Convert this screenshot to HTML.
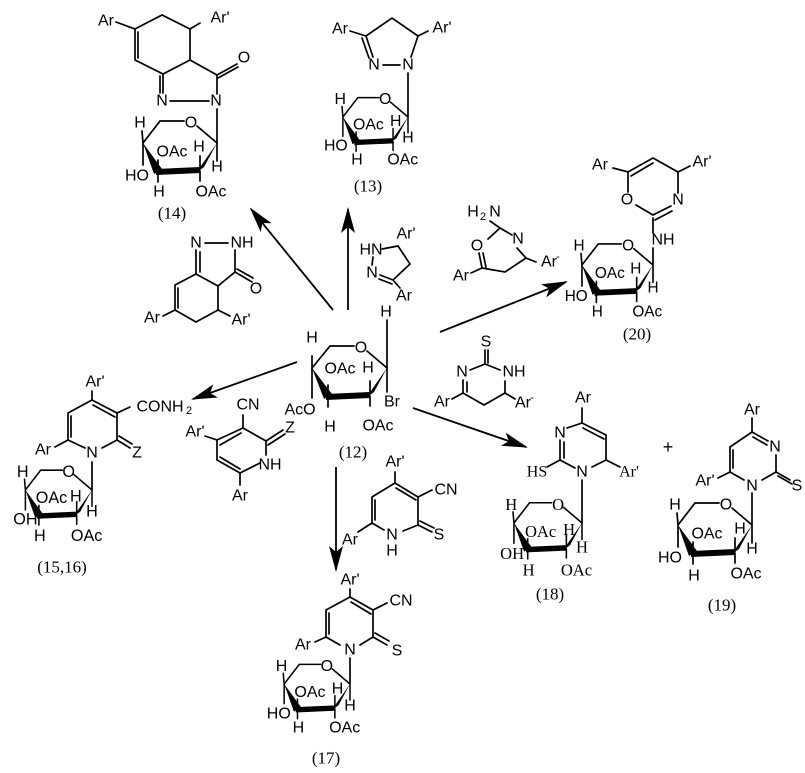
<!DOCTYPE html>
<html><head><meta charset="utf-8"><style>
html,body{margin:0;padding:0;background:#fff;}
svg{display:block;}
text{font-family:"Liberation Sans",sans-serif;font-size:16px;fill:#000;text-anchor:middle;dominant-baseline:central;}
text.s{font-family:"Liberation Serif",serif;font-size:17px;}
.b{stroke:#000;stroke-width:1.7;fill:none;stroke-linecap:round;}
</style></head><body>
<svg width="805" height="773" viewBox="0 0 805 773" xmlns="http://www.w3.org/2000/svg">
<defs>
<marker id="ah" markerUnits="userSpaceOnUse" markerWidth="26" markerHeight="14" refX="24" refY="7" orient="auto">
<path d="M0,0 L26,7 L0,14 L6,7 Z" fill="#000"/></marker>
</defs>

<g stroke="#000" stroke-width="1.8" fill="none">
<line x1="333" y1="310" x2="251" y2="209" marker-end="url(#ah)"/>
<line x1="348" y1="310" x2="348" y2="209" marker-end="url(#ah)"/>
<line x1="440" y1="332" x2="566" y2="282" marker-end="url(#ah)"/>
<line x1="297" y1="362" x2="193" y2="399" marker-end="url(#ah)"/>
<line x1="336" y1="467" x2="336" y2="570" marker-end="url(#ah)"/>
<line x1="413" y1="408" x2="526" y2="447" marker-end="url(#ah)"/>
</g>

<!-- 14 -->
<path class="b" d="M116,22 L135,29 L162,15 L190,29 L200,23 M190,29 L190,60 L217,75 M190,60 L163,74 L135,60 L135,29 M138,58 L138,32 M217,75 L237,64 M218,78 L238,67 M163,74 L163,93 M160,76 L160,93 M170,101 L209,101 M217,75 L217,94 M217,109 L217,143"/>
<text x="106" y="21">Ar</text><text x="220" y="18">Ar'</text><text x="244" y="58">O</text>
<text x="162" y="101">N</text><text x="216" y="101">N</text>
<text class="s" x="172" y="213">(14)</text>

<!-- 13 -->
<path class="b" d="M350,31 L366,36 L392,18 L418,36 L428,31 M366,36 L373,57 M362,38 L369,58 M383,65 L400,65 M418,36 L411,57 M408,73 L408,117"/>
<text x="340" y="29">Ar</text><text x="442" y="28">Ar'</text><text x="374" y="65">N</text><text x="408" y="65">N</text>
<text class="s" x="368" y="186">(13)</text>

<!-- reagent 14 -->
<path class="b" d="M205,243 L228,243 M196,250 L196,274 M200,252 L200,272 M235,250 L235,272 L252,282 M237,269 L253,278 M196,274 L218,286 L235,272 M196,274 L175,285 L175,310 M178,288 L178,308 M175,310 L196,322 L218,310 L218,286 M175,310 L163,316 M218,310 L230,316"/>
<text x="196" y="243">N</text><text x="242" y="243">NH</text><text x="256" y="289">O</text>
<text x="152" y="318">Ar</text><text x="241" y="320">Ar'</text>

<!-- reagent 13 -->
<path class="b" d="M382,249 L398,246 L410,264 L393,280 M393,280 L380,275 M392,284 L379,279 M373,257 L372,265 M393,280 L400,288"/>
<text x="371" y="250">HN</text><text x="406" y="234">Ar'</text><text x="372" y="273">N</text><text x="404" y="296">Ar</text>

<!-- 20 -->
<path class="b" d="M613,168 L628,172 L653,158 L678,172 L690,166 M631,176 L653,163 M678,172 L678,193 M671,206 L653,215 M672,211 L655,220 M653,215 L636,205 M628,192 L628,172 M653,218 L653,233 M653,248 L653,264"/>
<text x="600" y="165">Ar</text><text x="702" y="162">Ar'</text><text x="627" y="200">O</text><text x="678" y="200">N</text><text x="663" y="240">NH</text>
<text class="s" x="637" y="334">(20)</text>

<!-- reagent 20 -->
<path class="b" d="M490,221 L500,228 L512,235 M500,228 L488,239 M517,248 L526,258 L536,262 M526,258 L505,272 L482,268 M482,268 L479,253 M486,267 L483,253 M482,268 L471,273"/>
<text x="473" y="212">H</text><text x="483" y="217" style="font-size:11px">2</text><text x="495" y="212">N</text>
<text x="518" y="239">N</text><text x="477" y="246">O</text><text x="461" y="276">Ar</text><text x="549" y="262">Ar</text><text x="558" y="257" style="font-size:11px">-</text>

<!-- reagent 18 -->
<path class="b" d="M485,350 L485,363 M488,350 L488,363 M485,364 L470,370 M485,364 L500,370 M463,380 L463,393 M467,382 L467,392 M463,393 L484,405 L505,393 L505,381 M463,393 L452,399 M505,393 L515,399"/>
<text x="486" y="342">S</text><text x="462" y="372">N</text><text x="514" y="372">NH</text>
<text x="442" y="402">Ar</text><text x="523" y="403">Ar</text><text x="532" y="398" style="font-size:11px">-</text>

<!-- 18 -->
<path class="b" d="M582,408 L582,423 L606,435 M583,428 L604,439 M606,435 L606,460 L620,467 M606,460 L592,467 M575,468 L560,460 L547,467 M560,460 L560,440 M564,458 L564,442 M567,428 L582,423 M582,480 L582,523"/>
<text x="583" y="398">Ar</text><text x="560" y="433">N</text><text x="582" y="472">N</text>
<text class="s" x="537" y="472" style="font-size:16px">HS</text><text class="s" x="629" y="472" style="font-size:16px">Ar'</text>
<text class="s" x="550" y="594">(18)</text>
<text x="668" y="447" style="font-size:18px">+</text>

<!-- 19 -->
<path class="b" d="M752,418 L752,432 L768,441 M753,437 L767,445 M776,455 L776,472 L790,480 M778,476 L792,484 M776,472 L762,480 M744,480 L730,472 L730,447 L752,432 M733,468 L733,450 M730,472 L718,478 M752,493 L752,525"/>
<text x="752" y="410">Ar</text><text x="775" y="447">N</text><text x="752" y="486">N</text><text x="797" y="486">S</text><text x="705" y="481">Ar'</text>
<text class="s" x="722" y="605">(19)</text>

<!-- 15,16 -->
<path class="b" d="M92,391 L92,400 L117,413 L130,407 M93,405 L115,417 M117,413 L117,440 L130,448 M119,436 L132,444 M117,440 L102,448 M85,448 L68,440 L68,413 L92,400 M71,437 L71,416 M68,440 L55,447 M92,462 L92,490"/>
<text x="95" y="382">Ar'</text><text x="160" y="407">CONH</text><text x="189" y="411" style="font-size:11px">2</text>
<text x="137" y="453">Z</text><text x="92" y="453">N</text><text x="43" y="450">Ar</text>
<text class="s" x="62" y="567">(15,16)</text>

<!-- reagent 15 -->
<path class="b" d="M243,415 L243,428 L217,440 M241,433 L220,445 M217,440 L205,436 M217,440 L217,460 L240,473 M220,457 L240,469 M240,473 L240,485 M240,473 L260,463 M266,455 L266,441 L243,428 M266,441 L283,430 M268,445 L285,434"/>
<text x="248" y="405">CN</text><text x="195" y="432">Ar'</text><text x="240" y="496">Ar</text><text x="270" y="465">NH</text><text x="290" y="428">Z</text>

<!-- reagent 17 -->
<path class="b" d="M395,472 L395,483 L418,497 L432,490 M396,488 L416,500 M418,497 L418,525 L432,532 M420,521 L434,528 M418,525 L403,531 M384,530 L372,523 L372,497 L395,483 M375,520 L375,500 M372,523 L358,532"/>
<text x="395" y="462">Ar'</text><text x="446" y="490">CN</text><text x="439" y="535">S</text><text x="392" y="535">N</text><text x="392" y="551">H</text><text x="350" y="540">Ar</text>

<!-- 17 -->
<path class="b" d="M350,589 L350,597 L373,610 L387,603 M351,602 L371,614 M373,610 L373,637 L387,645 M375,633 L389,641 M373,637 L360,645 M340,645 L326,637 L326,610 L350,597 M329,634 L329,613 M326,637 L315,642 M350,658 L350,683"/>
<text x="350" y="580">Ar'</text><text x="401" y="601">CN</text><text x="397" y="651">S</text><text x="350" y="650">N</text><text x="303" y="645">Ar</text>
<text class="s" x="326" y="758">(17)</text>

<!-- 12 custom -->
<path class="b" d="M387,320 L387,368 L387,392 M312,368 L312,398"/>
<text x="386" y="312">H</text><text x="392" y="402">Br</text><text x="300" y="410">AcO</text>
<text class="s" x="353" y="452">(12)</text>

<!-- sugars -->
<g transform="translate(217,143)">
<path class="b" d="M0,0 L-20,-17 M-33,-22 L-57,-22 L-74,0 L-75,-12 M-59,28 L-59,17 M-59,30 L-59,39 M-17,26 L-17,13 M-17,28 L-17,38 M0,0 L0,18 M-74,0 L-74,22"/>
<polygon points="-74,0 -63,31 -55,26"/><line x1="-61" y1="29" x2="-17" y2="27" stroke="#000" stroke-width="6"/><polygon points="-21,30 -13,24 0,0"/>
<text x="-26" y="-20">O</text><text x="-77" y="-20">H</text><text x="-45" y="9">OAc</text><text x="-18" y="4">H</text><text x="-58" y="49">H</text><text x="-6" y="49">OAc</text><text x="0" y="24">H</text><text x="-80" y="33">HO</text>
</g>
<g transform="translate(408,117) scale(0.88)">
<path class="b" d="M0,0 L-20,-17 M-33,-22 L-57,-22 L-74,0 L-75,-12 M-59,28 L-59,17 M-59,30 L-59,39 M-17,26 L-17,13 M-17,28 L-17,38 M0,0 L0,18 M-74,0 L-74,22"/>
<polygon points="-74,0 -63,31 -55,26"/><line x1="-61" y1="29" x2="-17" y2="27" stroke="#000" stroke-width="6"/><polygon points="-21,30 -13,24 0,0"/>
<text x="-26" y="-20" style="font-size:18px">O</text><text x="-77" y="-20" style="font-size:18px">H</text><text x="-45" y="9" style="font-size:18px">OAc</text><text x="-14" y="5" style="font-size:18px">H</text><text x="-58" y="49" style="font-size:18px">H</text><text x="-6" y="49" style="font-size:18px">OAc</text><text x="0" y="24" style="font-size:18px">H</text><text x="-82" y="33" style="font-size:18px">HO</text>
</g>
<g transform="translate(653,265) scale(0.96)">
<path class="b" d="M0,0 L-20,-17 M-33,-22 L-57,-22 L-74,0 L-75,-12 M-59,28 L-59,17 M-59,30 L-59,39 M-17,26 L-17,13 M-17,28 L-17,38 M0,0 L0,18 M-74,0 L-74,22"/>
<polygon points="-74,0 -63,31 -55,26"/><line x1="-61" y1="29" x2="-17" y2="27" stroke="#000" stroke-width="6"/><polygon points="-21,30 -13,24 0,0"/>
<text x="-26" y="-20">O</text><text x="-77" y="-20">H</text><text x="-45" y="9">OAc</text><text x="-18" y="4">H</text><text x="-58" y="49">H</text><text x="-6" y="49">OAc</text><text x="0" y="24">H</text><text x="-80" y="33">HO</text>
</g>
<g transform="translate(387,368)">
<path class="b" d="M0,0 L-20,-17 M-33,-22 L-57,-22 L-75,0 L-75,-12 M-59,28 L-59,17 M-59,30 L-59,39 M-17,26 L-17,13 M-17,28 L-17,38"/>
<polygon points="-75,0 -63,31 -55,26"/><line x1="-61" y1="29" x2="-17" y2="27" stroke="#000" stroke-width="6"/><polygon points="-21,30 -13,24 0,0"/>
<text x="-26" y="-20">O</text><text x="-75" y="-30">H</text><text x="-47" y="1">OAc</text><text x="-19" y="0">H</text><text x="-57" y="59">H</text><text x="-9" y="58">OAc</text>
</g>
<g transform="translate(92,490) scale(0.9)">
<path class="b" d="M0,0 L-20,-17 M-33,-22 L-57,-22 L-74,0 L-75,-12 M-59,28 L-59,17 M-59,30 L-59,39 M-17,26 L-17,13 M-17,28 L-17,38 M0,0 L0,18 M-74,0 L-74,22"/>
<polygon points="-74,0 -63,31 -55,26"/><line x1="-61" y1="29" x2="-17" y2="27" stroke="#000" stroke-width="6"/><polygon points="-21,30 -13,24 0,0"/>
<text x="-26" y="-20" style="font-size:18px">O</text><text x="-77" y="-20" style="font-size:18px">H</text><text x="-45" y="9" style="font-size:18px">OAc</text><text x="-18" y="7" style="font-size:18px">H</text><text x="-58" y="51" style="font-size:18px">H</text><text x="-6" y="51" style="font-size:18px">OAc</text><text x="0" y="24" style="font-size:18px">H</text><text x="-74" y="33" style="font-size:18px">OH</text>
</g>
<g transform="translate(350,684) scale(0.89)">
<path class="b" d="M0,0 L-20,-17 M-33,-22 L-57,-22 L-74,0 L-75,-12 M-59,28 L-59,17 M-59,30 L-59,39 M-17,26 L-17,13 M-17,28 L-17,38 M0,0 L0,18 M-74,0 L-74,22"/>
<polygon points="-74,0 -63,31 -55,26"/><line x1="-61" y1="29" x2="-17" y2="27" stroke="#000" stroke-width="6"/><polygon points="-21,30 -13,24 0,0"/>
<text x="-26" y="-20" style="font-size:18px">O</text><text x="-77" y="-20" style="font-size:18px">H</text><text x="-45" y="9" style="font-size:18px">OAc</text><text x="-14" y="5" style="font-size:18px">H</text><text x="-58" y="49" style="font-size:18px">H</text><text x="-6" y="49" style="font-size:18px">OAc</text><text x="0" y="24" style="font-size:18px">H</text><text x="-80" y="33" style="font-size:18px">HO</text>
</g>
<g transform="translate(582,523) scale(0.92)">
<path class="b" d="M0,0 L-20,-17 M-33,-22 L-57,-22 L-74,0 L-75,-12 M-59,28 L-59,17 M-59,30 L-59,39 M-17,26 L-17,13 M-17,28 L-17,38 M0,0 L0,18 M-74,0 L-74,22"/>
<polygon points="-74,0 -63,31 -55,26"/><line x1="-61" y1="29" x2="-17" y2="27" stroke="#000" stroke-width="6"/><polygon points="-21,30 -13,24 0,0"/>
<text x="-26" y="-20" style="font-family:'Liberation Serif',serif;font-size:18px">O</text><text x="-77" y="-20" style="font-family:'Liberation Serif',serif;font-size:18px">H</text><text x="-45" y="9" style="font-family:'Liberation Serif',serif;font-size:18px">OAc</text><text x="-14" y="7" style="font-family:'Liberation Serif',serif;font-size:18px">H</text><text x="-58" y="51" style="font-family:'Liberation Serif',serif;font-size:18px">H</text><text x="-6" y="51" style="font-family:'Liberation Serif',serif;font-size:18px">OAc</text><text x="0" y="26" style="font-family:'Liberation Serif',serif;font-size:18px">H</text><text x="-76" y="33" style="font-family:'Liberation Serif',serif;font-size:18px">OH</text>
</g>
<g transform="translate(752,525)">
<path class="b" d="M0,0 L-20,-17 M-33,-22 L-57,-22 L-74,0 L-75,-12 M-59,28 L-59,17 M-59,30 L-59,39 M-17,26 L-17,13 M-17,28 L-17,38 M0,0 L0,18 M-74,0 L-74,22"/>
<polygon points="-74,0 -63,31 -55,26"/><line x1="-61" y1="29" x2="-17" y2="27" stroke="#000" stroke-width="6"/><polygon points="-21,30 -13,24 0,0"/>
<text x="-26" y="-20">O</text><text x="-77" y="-20">H</text><text x="-45" y="9">OAc</text><text x="-12" y="4">H</text><text x="-58" y="51">H</text><text x="-6" y="49">OAc</text><text x="0" y="24">H</text><text x="-82" y="33">HO</text>
</g>
</svg>
</body></html>
